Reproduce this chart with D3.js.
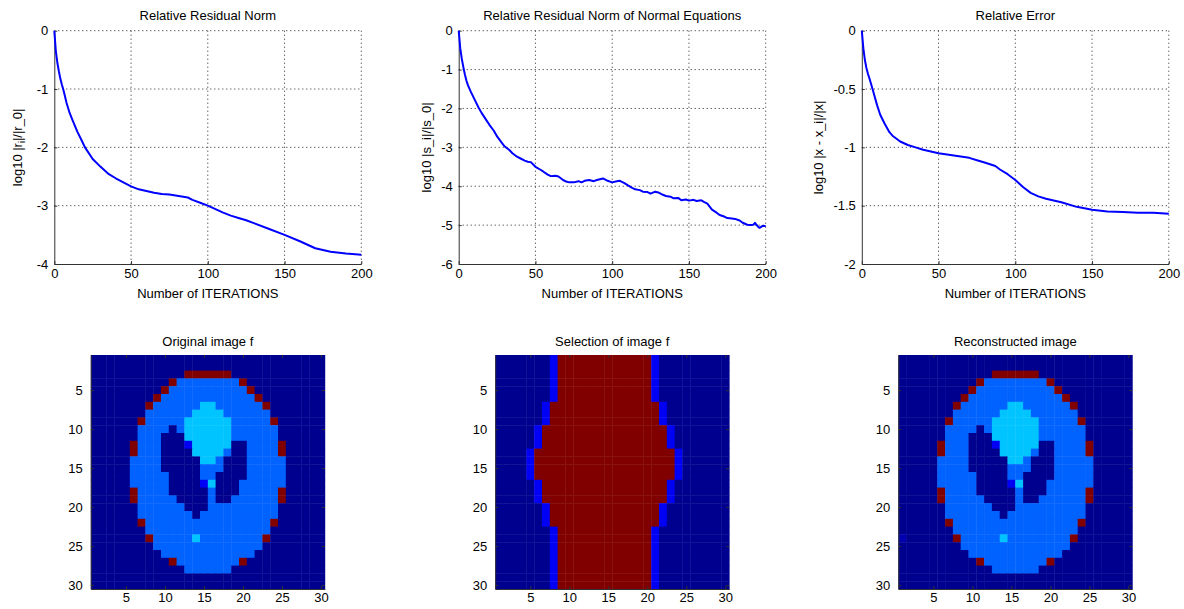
<!DOCTYPE html>
<html>
<head>
<meta charset="utf-8">
<script src="https://cdn.jsdelivr.net/npm/d3@7"></script>
<style>
body { margin: 0; background: #fff; }
text { font-family: Arial, "Liberation Sans", Helvetica, sans-serif; font-size: 13px; fill: #000; }
</style>
</head>
<body>
<script>
//Curve data
var itersA = [0,1,2,3,4,5,6,8,10,12,15,18,20,25,30,35,40,45,50,55,60,65,70,75,80,87,90,95,100,105,110,115,120,125,130,140,150,160,165,170,175,180,190,200];
var residA = [0,-0.35,-0.55,-0.7,-0.83,-0.93,-1.02,-1.24,-1.41,-1.54,-1.73,-1.89,-2.0,-2.2,-2.33,-2.45,-2.53,-2.6,-2.67,-2.72,-2.75,-2.78,-2.8,-2.81,-2.83,-2.86,-2.9,-2.95,-3.0,-3.06,-3.12,-3.17,-3.21,-3.25,-3.3,-3.4,-3.5,-3.61,-3.67,-3.73,-3.76,-3.79,-3.82,-3.84];

var itersB = [0,1,2,3,4,5,6,8,10,13,15,18,20,23,25,28,30,33,35,38,40,43,45,47,50,53,55,58,60,63,65,68,70,72,75,78,80,82,85,88,90,92,94,97,100,103,105,108,110,113,115,118,120,123,125,128,130,133,135,138,140,143,145,148,150,153,155,158,160,162,165,168,170,173,175,178,180,183,185,188,190,192,193,195,196,198,200];
var normalB = [0,-0.45,-0.72,-0.93,-1.12,-1.28,-1.4,-1.58,-1.74,-1.98,-2.12,-2.3,-2.42,-2.58,-2.72,-2.88,-2.98,-3.07,-3.15,-3.24,-3.28,-3.34,-3.37,-3.38,-3.5,-3.57,-3.62,-3.7,-3.74,-3.73,-3.75,-3.84,-3.88,-3.9,-3.9,-3.87,-3.9,-3.86,-3.84,-3.87,-3.84,-3.82,-3.8,-3.86,-3.9,-3.87,-3.86,-3.92,-3.97,-4.04,-4.08,-4.1,-4.14,-4.15,-4.19,-4.14,-4.16,-4.22,-4.25,-4.27,-4.31,-4.3,-4.36,-4.34,-4.37,-4.35,-4.38,-4.36,-4.41,-4.45,-4.6,-4.68,-4.74,-4.78,-4.82,-4.83,-4.84,-4.88,-4.94,-4.99,-5.0,-4.99,-4.94,-5.04,-5.07,-5.02,-5.02];

var itersC = [0,1,2,3,4,5,7,10,12,15,18,20,25,30,35,40,50,60,70,75,80,87,90,95,100,105,110,115,120,130,140,150,160,170,180,190,200];
var errorC = [0,-0.15,-0.25,-0.32,-0.37,-0.41,-0.5,-0.64,-0.72,-0.8,-0.87,-0.9,-0.95,-0.98,-1.0,-1.02,-1.05,-1.07,-1.09,-1.11,-1.13,-1.16,-1.19,-1.23,-1.28,-1.34,-1.39,-1.42,-1.44,-1.47,-1.51,-1.535,-1.55,-1.555,-1.56,-1.56,-1.57];

var xTicks = [0, 50, 100, 150, 200];
var yTicksA = [0, -1, -2, -3, -4];
var yTicksB = [0, -1, -2, -3, -4, -5, -6];
var yTicksC = [0, -0.5, -1, -1.5, -2];
var imgTicks = [5, 10, 15, 20, 25, 30];

//Image data, 30x30 cells
// . background  m tissue  r outer ring  c bright spots  b overlap  d faint error
var originalImg = [
  "..............................",
  "..............................",
  "............rrrrrr............",
  "..........rmmmmmmmmr..........",
  ".........rmmmmmmmmmmr.........",
  "........rmmmmmmmmmmmmr........",
  ".......rmmmmmmccmmmmmmr.......",
  ".......mmmmmmccccmmmmmm.......",
  "......rmmmmmccccccmmmmmr......",
  "......mmmm.mccccccmmmmmm......",
  "......mmm...ccccccmmmmmm......",
  ".....rmmm...bccccc..mmmmr.....",
  ".....rmmm....ccccm..mmmmr.....",
  ".....mmmm.....ccm...mmmmm.....",
  ".....mmmm.....mmm...mmmmm.....",
  ".....mmmmm....mm....mmmmm.....",
  ".....mmmmm....bc...mmmmmm.....",
  ".....rmmmm.....m...mmmmmr.....",
  ".....rmmmmm....m..mmmmmmr.....",
  "......mmmmmm...mmmmmmmmm......",
  "......mmmmmmm.mmmmmmmmmm......",
  "......rmmmmmmmmmmmmmmmmr......",
  ".......mmmmmmmmmmmmmmmm.......",
  ".......rmmmmmcmmmmmmmmr.......",
  "........mmmmmmmmmmmmmm........",
  ".........mmmmmmmmmmmm.........",
  "..........rmmmmmmmmr..........",
  "............mmmmmm............",
  "..............................",
  ".............................."
];

var selectionImg = [
  ".......brrrrrrrrrrrrb.........",
  ".......brrrrrrrrrrrrb.........",
  ".......brrrrrrrrrrrrb.........",
  ".......brrrrrrrrrrrrb.........",
  ".......brrrrrrrrrrrrb.........",
  ".......brrrrrrrrrrrrb.........",
  "......brrrrrrrrrrrrrrb........",
  "......brrrrrrrrrrrrrrb........",
  "......brrrrrrrrrrrrrrb........",
  ".....brrrrrrrrrrrrrrrrb.......",
  ".....brrrrrrrrrrrrrrrrb.......",
  ".....brrrrrrrrrrrrrrrrb.......",
  "....brrrrrrrrrrrrrrrrrrb......",
  "....brrrrrrrrrrrrrrrrrrb......",
  "....brrrrrrrrrrrrrrrrrrb......",
  "....brrrrrrrrrrrrrrrrrrb......",
  ".....brrrrrrrrrrrrrrrrb.......",
  ".....brrrrrrrrrrrrrrrrb.......",
  ".....brrrrrrrrrrrrrrrrb.......",
  "......brrrrrrrrrrrrrrb........",
  "......brrrrrrrrrrrrrrb........",
  "......brrrrrrrrrrrrrrb........",
  ".......brrrrrrrrrrrrb.........",
  ".......brrrrrrrrrrrrb.........",
  ".......brrrrrrrrrrrrb.........",
  ".......brrrrrrrrrrrrb.........",
  ".......brrrrrrrrrrrrb.........",
  ".......brrrrrrrrrrrrb.........",
  ".......brrrrrrrrrrrrb.........",
  ".......brrrrrrrrrrrrb........."
];

var reconstructedImg = originalImg.slice();
reconstructedImg[23] = "d" + originalImg[23].slice(1);

var cellColor = d3.scaleOrdinal()
  .domain([".", "d", "b", "m", "c", "r"])
  .range(["#00008f", "#0000b0", "#0000f5", "#0062ff", "#00c4ff", "#800000"]);

//Width and height
var w = 1184;
var h = 609;

var svg = d3.select("body")
  .append("svg")
  .attr("width", w)
  .attr("height", h);

var plotTop = 30.7, plotH = 233.3, plotW = 307;
var plotLeft = [54.3, 458.7, 861.8];

function linePanel(k, xs, ys, yDomain, yTicks, title, labelX) {
  var left = plotLeft[k];
  var x = d3.scaleLinear().domain([0, 200]).range([left, left + plotW]);
  var y = d3.scaleLinear().domain(yDomain).range([plotTop + plotH, plotTop]);
  var g = svg.append("g");

  //dotted grid
  g.selectAll(".gx").data(xTicks.slice(1)).join("line")
    .attr("x1", d => x(d)).attr("x2", d => x(d))
    .attr("y1", plotTop).attr("y2", plotTop + plotH)
    .attr("stroke", "#222").attr("stroke-dasharray", "1,3");
  g.selectAll(".gy").data(yTicks.filter(d => d !== yDomain[0])).join("line")
    .attr("x1", left).attr("x2", left + plotW)
    .attr("y1", d => y(d)).attr("y2", d => y(d))
    .attr("stroke", "#222").attr("stroke-dasharray", "1,3");

  //axes
  g.append("g")
    .attr("transform", "translate(0," + (plotTop + plotH) + ")")
    .call(d3.axisBottom(x).tickValues(xTicks).tickSizeInner(-3).tickSizeOuter(0).tickPadding(5))
    .call(a => a.selectAll("line, path").attr("stroke", "#333"));
  g.append("g")
    .attr("transform", "translate(" + left + ",0)")
    .call(d3.axisLeft(y).tickValues(yTicks).tickFormat(d => String(d)).tickSizeInner(-3).tickSizeOuter(0).tickPadding(6))
    .call(a => a.selectAll("line, path").attr("stroke", "#333"));

  //curve
  var pts = xs.map((d, i) => [d, ys[i]]);
  g.append("path")
    .datum(pts)
    .attr("fill", "none")
    .attr("stroke", "#0000ff")
    .attr("stroke-width", 2)
    .attr("stroke-linejoin", "round")
    .attr("d", d3.line().x(d => x(d[0])).y(d => y(d[1])));

  //texts
  g.append("text")
    .attr("x", left + plotW / 2).attr("y", 20)
    .attr("text-anchor", "middle")
    .text(title);
  g.append("text")
    .attr("x", left + plotW / 2).attr("y", 298)
    .attr("text-anchor", "middle")
    .text("Number of ITERATIONS");

  return g.append("text")
    .attr("transform", "translate(" + labelX + "," + (plotTop + plotH / 2) + ") rotate(-90)")
    .attr("dy", "0.35em")
    .attr("text-anchor", "middle");
}

var lab1 = linePanel(0, itersA, residA, [-4, 0], yTicksA, "Relative Residual Norm", 17);
lab1.append("tspan").text("log10 |r");
lab1.append("tspan").attr("dy", 3).style("font-size", "9px").text("i");
lab1.append("tspan").attr("dy", -3).text("|/|r_0|");

linePanel(1, itersB, normalB, [-6, 0], yTicksB, "Relative Residual Norm of Normal Equations", 426)
  .text("log10 |s_i|/|s_0|");

linePanel(2, itersC, errorC, [-2, 0], yTicksC, "Relative Error", 818)
  .text("log10 |x - x_i|/|x|");

//Image panels
var imgTop = 355, imgSize = 234;

function imagePanel(k, grid, title) {
  var left = plotLeft[k] + plotW / 2 - imgSize / 2;
  var x = d3.scaleLinear().domain([0.5, 30.5]).range([left, left + imgSize]);
  var y = d3.scaleLinear().domain([0.5, 30.5]).range([imgTop, imgTop + imgSize]);
  var cells = [];
  grid.forEach((row, r) => row.split("").forEach((v, c) => cells.push({r: r + 1, c: c + 1, v: v})));
  var g = svg.append("g");

  g.selectAll("rect").data(cells).join("rect")
    .attr("x", d => x(d.c - 0.5))
    .attr("y", d => y(d.r - 0.5))
    .attr("width", x(1.5) - x(0.5) + 0.4)
    .attr("height", y(1.5) - y(0.5) + 0.4)
    .attr("fill", d => cellColor(d.v));

  g.append("g")
    .attr("transform", "translate(0," + (imgTop + imgSize) + ")")
    .call(d3.axisBottom(x).tickValues(imgTicks).tickSizeInner(-3).tickSizeOuter(0).tickPadding(4))
    .call(a => a.selectAll("line, path").attr("stroke", "#333"));
  g.append("g")
    .attr("transform", "translate(" + left + ",0)")
    .call(d3.axisLeft(y).tickValues(imgTicks).tickSizeInner(-3).tickSizeOuter(0).tickPadding(8))
    .call(a => a.selectAll("line, path").attr("stroke", "#333"));
  g.append("g")
    .attr("transform", "translate(0," + imgTop + ")")
    .call(d3.axisTop(x).tickValues(imgTicks).tickSizeInner(-3).tickSizeOuter(0).tickFormat(""))
    .call(a => a.select(".domain").remove())
    .call(a => a.selectAll("line").attr("stroke", "#333"));
  g.append("g")
    .attr("transform", "translate(" + (left + imgSize) + ",0)")
    .call(d3.axisRight(y).tickValues(imgTicks).tickSizeInner(-3).tickSizeOuter(0).tickFormat(""))
    .call(a => a.select(".domain").remove())
    .call(a => a.selectAll("line").attr("stroke", "#333"));

  g.append("text")
    .attr("x", left + imgSize / 2).attr("y", 346)
    .attr("text-anchor", "middle")
    .text(title);
}

imagePanel(0, originalImg, "Original image f");
imagePanel(1, selectionImg, "Selection of image f");
imagePanel(2, reconstructedImg, "Reconstructed image");
</script>
</body>
</html>
